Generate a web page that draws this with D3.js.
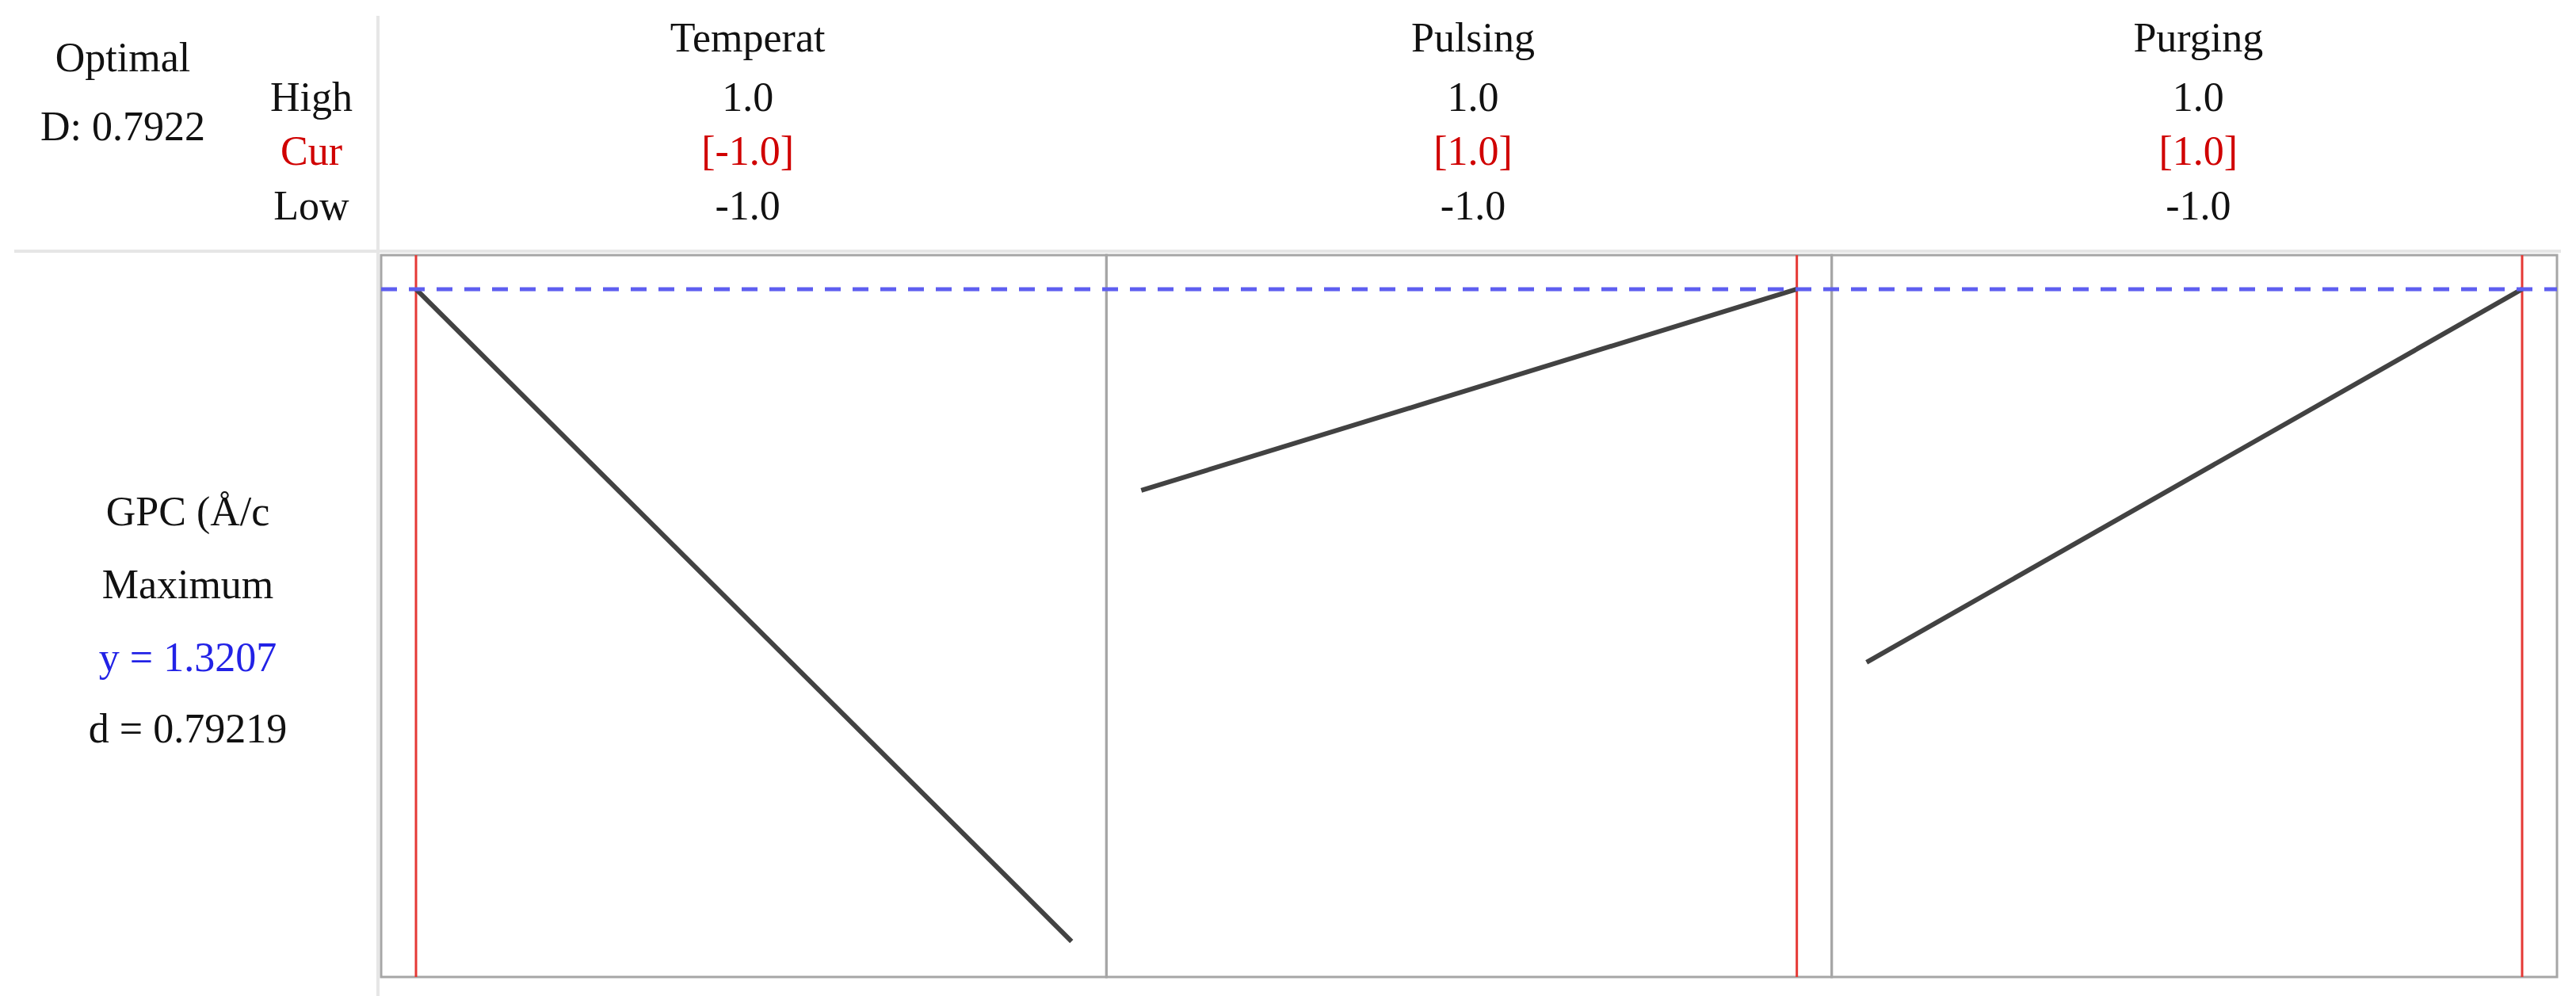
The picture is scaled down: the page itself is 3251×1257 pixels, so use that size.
<html>
<head>
    <script src="https://d3js.org/d3.v7.min.js"></script>
    <style>
        body { margin: 0; background: #fff; }
        svg text {
            font-family: "Liberation Serif", "Times New Roman", serif;
            font-size: 52px;
            fill: #111;
            text-anchor: middle;
        }
    </style>
</head>
<body>
<script>
    // factors and their settings (coded units)
    var factors = ["Temperat", "Pulsing", "Purging"];
    var highs = ["1.0", "1.0", "1.0"];
    var lows = ["-1.0", "-1.0", "-1.0"];
    var curLabels = ["[-1.0]", "[1.0]", "[1.0]"];
    var curValues = [-1, 1, 1];

    // predicted GPC at the low (-1) and high (+1) end of each factor
    var yAtLow = [1.3207, 1.183, 1.0653];
    var yAtHigh = [0.8744, 1.3207, 1.3207];

    var yOpt = 1.3207;
    var rowLabels = ["High", "Cur", "Low"];
    var sideLines = ["GPC (Å/c", "Maximum", "y = 1.3207", "d = 0.79219"];

    var width = 3251, height = 1257;
    var panelLeft = 481, panelRight = 3227, panelTop = 322, panelBottom = 1233;
    var pad = 44;

    var svg = d3.select("body").append("svg")
        .attr("width", width)
        .attr("height", height);

    // light separators of the table
    svg.append("line")
        .attr("x1", 18).attr("x2", 3232).attr("y1", 317).attr("y2", 317)
        .attr("stroke", "#e6e6e6").attr("stroke-width", 4);
    svg.append("line")
        .attr("x1", 477).attr("x2", 477).attr("y1", 20).attr("y2", height)
        .attr("stroke", "#e6e6e6").attr("stroke-width", 4);

    // header, left part
    svg.append("text").attr("x", 155).attr("y", 90).text("Optimal");
    svg.append("text").attr("x", 155).attr("y", 177).text("D: 0.7922");

    var rowY = [140, 208, 277];
    svg.selectAll("text.row").data(rowLabels).enter().append("text")
        .attr("class", "row")
        .attr("x", 393)
        .attr("y", function (d, i) { return rowY[i]; })
        .style("fill", function (d) { return d === "Cur" ? "#d00000" : "#111"; })
        .text(function (d) { return d; });

    // response block at left
    var sideY = [663, 755, 847, 937];
    svg.selectAll("text.side").data(sideLines).enter().append("text")
        .attr("class", "side")
        .attr("x", 237)
        .attr("y", function (d, i) { return sideY[i]; })
        .style("fill", function (d, i) { return i === 2 ? "#2222e6" : "#111"; })
        .text(function (d) { return d; });

    var panel = d3.scaleBand()
        .domain(factors)
        .range([panelLeft, panelRight]);

    var y = d3.scaleLinear()
        .domain([0.85, 1.344])
        .range([panelBottom, panelTop]);

    factors.forEach(function (f, i) {
        var x0 = panel(f), x1 = x0 + panel.bandwidth();
        var x = d3.scaleLinear().domain([-1, 1]).range([x0 + pad, x1 - pad]);
        var cx = (x0 + x1) / 2 + 5;

        svg.append("text").attr("x", cx).attr("y", 65).text(f);
        svg.append("text").attr("x", cx).attr("y", rowY[0]).text(highs[i]);
        svg.append("text").attr("x", cx).attr("y", rowY[1])
            .style("fill", "#d00000").text(curLabels[i]);
        svg.append("text").attr("x", cx).attr("y", rowY[2]).text(lows[i]);

        svg.append("rect")
            .attr("x", x0).attr("y", panelTop)
            .attr("width", x1 - x0).attr("height", panelBottom - panelTop)
            .attr("fill", "none")
            .attr("stroke", "#a6a6a6")
            .attr("stroke-width", 3);

        // current setting
        svg.append("line")
            .attr("x1", x(curValues[i])).attr("x2", x(curValues[i]))
            .attr("y1", panelTop).attr("y2", panelBottom)
            .attr("stroke", "#e53935").attr("stroke-width", 3);

        // predicted response
        svg.append("line")
            .attr("x1", x(-1)).attr("y1", y(yAtLow[i]))
            .attr("x2", x(1)).attr("y2", y(yAtHigh[i]))
            .attr("stroke", "#424242").attr("stroke-width", 6);
    });

    // optimal response
    svg.append("line")
        .attr("x1", panelLeft).attr("x2", panelRight)
        .attr("y1", y(yOpt)).attr("y2", y(yOpt))
        .attr("stroke", "#5e5ef0")
        .attr("stroke-width", 5)
        .attr("stroke-dasharray", "20,15");
</script>
</body>
</html>
